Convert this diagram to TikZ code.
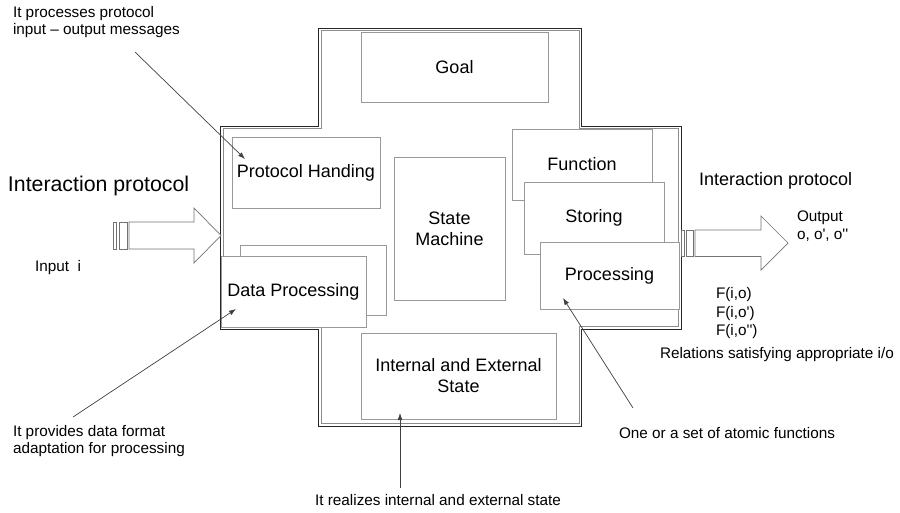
\documentclass[tikz,border=0pt]{standalone}
\usepackage{fontspec}
\setmainfont{Liberation Sans}[Ligatures=TeXOff]
\usetikzlibrary{arrows.meta,calc}

% cross-shaped agent outline, pushed outward by #1 (negative: inward)
\def\agentoutline#1{(320-#1,29.5-#1) -- (580.5+#1,29.5-#1) -- (580.5+#1,127.5-#1)
  -- (680+#1,127.5-#1) -- (680+#1,328+#1) -- (580.5+#1,328+#1) -- (580.5+#1,425+#1)
  -- (320-#1,425+#1) -- (320-#1,328+#1) -- (222-#1,328+#1) -- (222-#1,127.5-#1)
  -- (320-#1,127.5-#1) -- cycle}

\begin{document}
\begin{tikzpicture}[x=1pt,y=-1pt,
  every node/.style={inner sep=0pt, outer sep=0pt},
  frameout/.style={draw=black!85, line width=0.9pt},
  framein/.style={draw=black!45, line width=0.9pt},
  compbox/.style={draw=black!40, line width=0.8pt, fill=white,
    font=\fontsize{18}{21}\selectfont, align=center},
  note/.style={font=\fontsize{15.3}{17.7}\selectfont, align=left, anchor=west},
  headline/.style={font=\fontsize{18}{21}\selectfont, anchor=west},
  pointer/.style={draw=black!75, line width=0.7pt, -{Latex[length=7pt,width=5pt]}},
  bigarrow/.style={draw=black!55, line width=0.7pt, fill=white},
]
\useasboundingbox (0,0) rectangle (900,512);

% agent outline: dark outer line, lighter inner line
\draw[frameout] \agentoutline{1.3};
\draw[framein] \agentoutline{-1.3};

% components
\node[compbox, minimum width=187, minimum height=70] (goal) at (454.5,67) {Goal};
\node[compbox, minimum width=148, minimum height=71] (proto) at (306,172.5) {Protocol Handing};
\node[compbox, minimum width=146, minimum height=70] (dpback) at (313,280) {};
\node[compbox, minimum width=145, minimum height=71] (dp) at (293.5,291.5) {Data Processing};
\node[compbox, minimum width=111, minimum height=143] (sm) at (449.5,228.5) {State\\Machine};
\node[compbox, minimum width=140, minimum height=71] (func) at (582,164.5) {Function};
\node[compbox, minimum width=140, minimum height=72] (stor) at (594,218) {Storing};
\node[compbox, minimum width=139, minimum height=67] (proc) at (609.5,275.5) {Processing};
\node[compbox, minimum width=195, minimum height=86] (ies) at (458.5,376) {Internal and External\\State};

% input side
\draw[bigarrow] (113,222) rectangle (116,249);
\draw[bigarrow] (119.5,222) rectangle (127,249);
\draw[bigarrow] (129,222) -- (194,222) -- (194,208) -- (221,235.5) -- (194,263)
  -- (194,249) -- (129,249) -- cycle;

% output side
\draw[bigarrow] (681.5,230) rectangle (684.5,256.5);
\draw[bigarrow] (686.5,230) rectangle (693.5,256.5);
\draw[bigarrow] (695,230) -- (761,230) -- (761,216) -- (788,243) -- (761,270)
  -- (761,256.5) -- (695,256.5) -- cycle;

% labels
\node[headline, font=\fontsize{21.3}{24}\selectfont] (ipl) at (8,186) {Interaction protocol};
\node[headline] (ipr) at (699,181) {Interaction protocol};
\node[note] (inp) at (35,268) {Input\ \ i};
\node[note] (outp) at (797,226) {Output\\o, o', o''};
\node[note, font=\fontsize{15.3}{18.5}\selectfont] (rels) at (716,313.5) {F(i,o)\\F(i,o')\\F(i,o'')};
\node[note] (relt) at (660,355) {Relations satisfying appropriate i/o};

\node[note] (n1) at (13,22) {It processes protocol\\input – output messages};
\node[note] (n2) at (13,441) {It provides data format\\adaptation for processing};
\node[note, anchor=center] (n3) at (438,500) {It realizes internal and external state};
\node[note] (n4) at (619,433) {One or a set of atomic functions};

% annotation pointers
\coordinate (t1) at (135,52);
\coordinate (t2) at (73,417);
\coordinate (t3) at (400,488);
\coordinate (t4) at (633,408);
\draw[pointer] (t1) -- ($(proto.north west)+(13,22)$);
\draw[pointer] (t2) -- ($(dp.south west)+(15,-18)$);
\draw[pointer] (t3) -- ($(ies.south west)+(39,-6)$);
\draw[pointer] (t4) -- ($(proc.south west)+(23,-11)$);
\end{tikzpicture}
\end{document}
